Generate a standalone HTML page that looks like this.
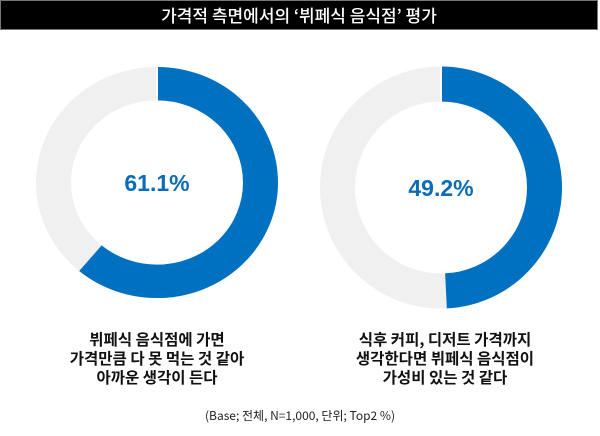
<!DOCTYPE html>
<html><head><meta charset="utf-8"><style>
body{margin:0;width:600px;height:436px;background:#fff;overflow:hidden;position:relative;font-family:"Liberation Sans","Noto Sans CJK KR",sans-serif}
.title{position:absolute;left:0;top:0;width:596px;height:28px;background:#000;border:1px solid #777;color:#fff;font-size:17px;font-weight:500;text-align:center;line-height:28px;font-family:"Noto Sans CJK KR",sans-serif}
.lab{position:absolute;width:300px;text-align:center;font-size:15.5px;line-height:19px;color:#111;font-family:"Noto Sans CJK KR",sans-serif;font-weight:600}
.foot{position:absolute;left:0;width:600px;top:407px;text-align:center;font-size:12px;color:#222;font-family:"Noto Sans CJK KR",sans-serif}
</style></head><body>
<div class="title">가격적 측면에서의 ‘뷔페식 음식점’ 평가</div>
<svg width="600" height="436" style="position:absolute;left:0;top:0">
<g transform="translate(157,182.5) scale(1,0.955)">
<circle r="103.5" fill="none" stroke="#f0f0f0" stroke-width="35"/>
<circle r="103.5" fill="none" stroke="#0070c0" stroke-width="35" stroke-dasharray="397.3 1000" transform="rotate(-90)"/>
<line x1="0" y1="-86" x2="0" y2="-121" stroke="#fff" stroke-width="2"/>
</g>
<text x="157" y="191" text-anchor="middle" font-size="23" font-weight="bold" fill="#0a6cb8" font-family="Liberation Sans, sans-serif">61.1%</text>
<g transform="translate(441,187.5)">
<circle r="103.5" fill="none" stroke="#f0f0f0" stroke-width="35"/>
<circle r="103.5" fill="none" stroke="#0070c0" stroke-width="35" stroke-dasharray="320 1000" transform="rotate(-90)"/>
<line x1="0" y1="-86" x2="0" y2="-121" stroke="#fff" stroke-width="2"/>
</g>
<text x="441" y="196" text-anchor="middle" font-size="23" font-weight="bold" fill="#0a6cb8" font-family="Liberation Sans, sans-serif">49.2%</text>
</svg>
<div class="lab" style="left:7px;top:330px">뷔페식 음식점에 가면<br>가격만큼 다 못 먹는 것 같아<br>아까운 생각이 든다</div>
<div class="lab" style="left:295px;top:330px">식후 커피, 디저트 가격까지<br>생각한다면 뷔페식 음식점이<br>가성비 있는 것 같다</div>
<div class="foot">(Base; 전체, N=1,000, 단위; Top2 %)</div>
</body></html>
